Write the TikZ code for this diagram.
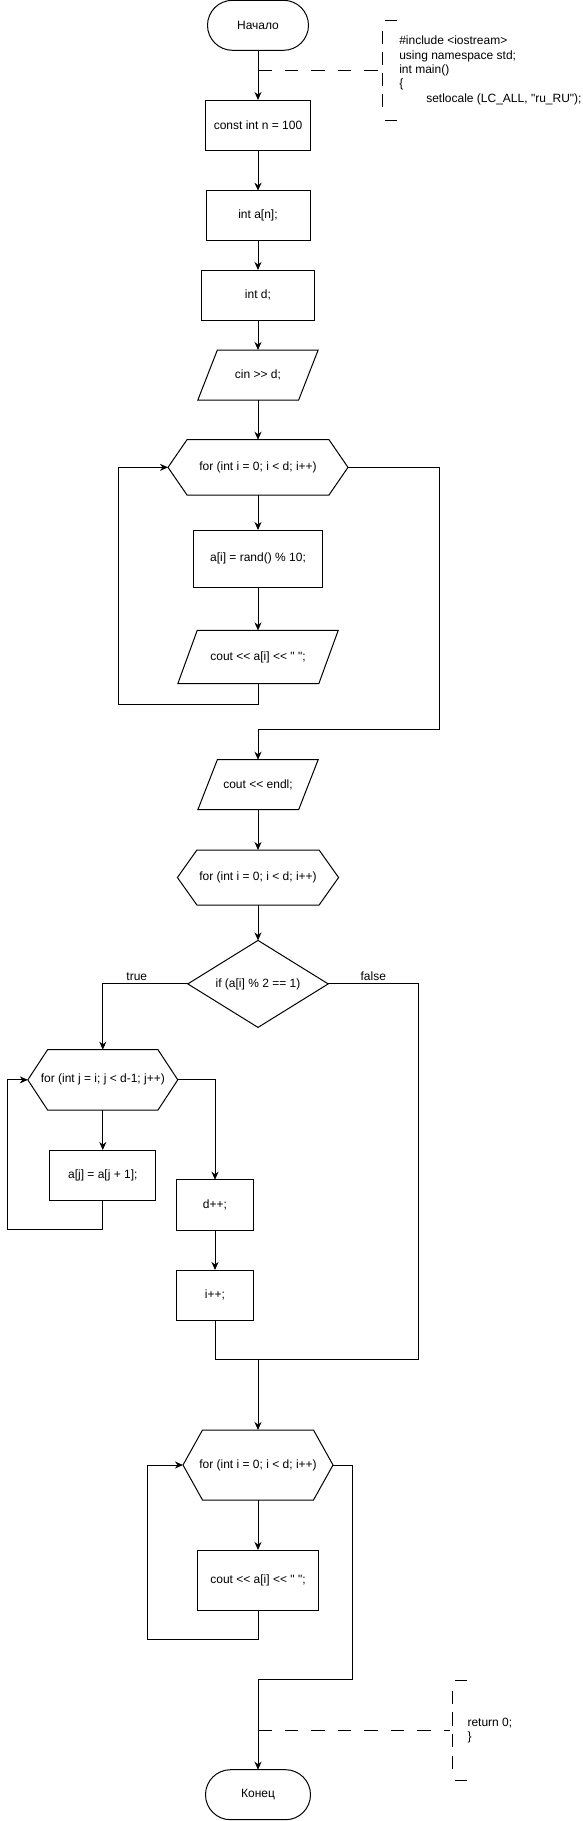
\documentclass[tikz,border=0pt]{standalone}
\usepackage{fontspec}
\setmainfont{Liberation Sans}[Ligatures=TeXOff]
\usetikzlibrary{positioning,shapes.geometric,arrows.meta}

\begin{document}
\begin{tikzpicture}[x=1pt,y=1pt,line width=1pt,
    >={Stealth[length=8pt,width=7pt,inset=2.5pt]},
    font=\fontsize{12pt}{14.4pt}\selectfont,
    every node/.style={outer sep=0pt},
    term/.style={rectangle,draw,rounded corners=25pt,minimum height=50pt},
    proc/.style={rectangle,draw,inner sep=0pt},
    io/.style={rectangle,inner sep=0pt,append after command={\pgfextra{\let\pn\tikzlastnode
        \draw ([xshift=#1]\pn.north west) -- (\pn.north east)
          -- ([xshift=-#1]\pn.south east) -- (\pn.south west) -- cycle;}}},
    io/.default=19.5pt,
    hexa/.style={rectangle,inner sep=0pt,append after command={\pgfextra{\let\hn\tikzlastnode
        \draw (\hn.west) -- ([xshift=#1]\hn.north west) -- ([xshift=-#1]\hn.north east)
          -- (\hn.east) -- ([xshift=-#1]\hn.south east) -- ([xshift=#1]\hn.south west)
          -- cycle;}}},
    hexa/.default=19.5pt,
    cond/.style={diamond,draw,aspect=1.6,inner sep=0pt},
    ann/.style={dash pattern=on 13.5pt off 13pt},
    note/.style={rectangle,anchor=west,align=left,inner ysep=0pt,minimum height=100pt}]
  \useasboundingbox (0,0) rectangle (582,-1821);

  \node[term,minimum width=101pt] (start) at (258,-25.3) {Начало};
  \node[proc,below=49.7pt of start,minimum width=105pt,minimum height=50pt] (c1)
    {const int n = 100};
  \node[proc,below=40.7pt of c1,minimum width=104pt,minimum height=49.3pt] (c2) {int a[n];};
  \node[proc,below=30pt of c2,minimum width=113pt,minimum height=50pt] (c3) {int d;};
  \node[io,below=30pt of c3,minimum width=120.3pt,minimum height=50pt] (in1) {cin >> d;};
  \node[hexa=19pt,below=39.7pt of in1,minimum width=180pt,minimum height=55.3pt] (h1)
    {for (int i = 0; i < d; i++)};
  \node[proc,below=35pt of h1,minimum width=128.4pt,minimum height=57.7pt] (c4)
    {a[i] = rand() \% 10;};
  \node[io=19.4pt,below=42.7pt of c4,minimum width=160.4pt,minimum height=53.3pt] (out1)
    {cout << a[i] << " ";};
  \node[io,below=76pt of out1,minimum width=120.3pt,minimum height=50pt] (out2)
    {cout << endl;};
  \node[hexa,below=40.3pt of out2,minimum width=161.2pt,minimum height=55pt] (h2)
    {for (int i = 0; i < d; i++)};
  \node[cond,below=35.4pt of h2,minimum width=140.4pt,minimum height=87pt] (if1)
    {if (a[i] \% 2 == 1)};
  \node[hexa=19.8pt,below=22.3pt of if1,xshift=-155.2pt,minimum width=150pt,
    minimum height=60.3pt] (h3) {for (int j = i; j < d-1; j++)};
  \node[proc,below=40pt of h3,minimum width=106pt,minimum height=50pt] (c5)
    {a[j] = a[j + 1];};
  \node[proc,below=69.7pt of h3,xshift=112.2pt,minimum width=76.7pt,minimum height=50.3pt]
    (c6) {d++;};
  \node[proc,below=40pt of c6,minimum width=76.7pt,minimum height=50pt] (c7) {i++;};
  \node[hexa,below=402.6pt of if1,minimum width=150pt,minimum height=70pt] (h4)
    {for (int i = 0; i < d; i++)};
  \node[proc,below=50pt of h4,minimum width=121pt,minimum height=60pt] (c8)
    {cout << a[i] << " ";};
  \node[term,below=159.7pt of c8,minimum width=105pt] (end) {Конец};
  \coordinate[above=70.3pt of h4.north] (m1);

  \node[note,inner xsep=16.6pt] (n1) at (382.7,-70.3)
    {\#include <iostream>\\using namespace std;\\int main()\\\{\\
     \hspace*{27pt}setlocale (LC\_ALL, "ru\_RU");};
  \node[note,inner xsep=15pt] (n2) at (452.5,-1730.5) {return 0;\\\}};

  \draw[->] (start) -- (c1); \draw[->] (c1) -- (c2); \draw[->] (c2) -- (c3);
  \draw[->] (c3) -- (in1); \draw[->] (in1) -- (h1); \draw[->] (h1) -- (c4);
  \draw[->] (c4) -- (out1);
  \draw[->] (out1.south) -- ++(0,-20.3) -| ([xshift=-49.9pt]h1.west) -- (h1.west);
  \draw[->] (h1.east) -- ++(91.2,0) |- ([yshift=30pt]out2.north) -- (out2.north);
  \draw[->] (out2) -- (h2); \draw[->] (h2) -- (if1);

  \draw[->] (if1.west) -| node[pos=0.3,above] {true} (h3.north);
  \draw (if1.east) -- ++(90.1,0) node[midway,above] {false} |- (c7.south |- m1);
  \draw[->] (h3) -- (c5);
  \draw[->] (c5.south) -- ++(0,-29.7) -| ([xshift=-20.5pt]h3.west) -- (h3.west);
  \draw[->] (h3.east) -| (c6.north); \draw[->] (c6) -- (c7);
  \draw (c7.south) -- (c7.south |- m1);

  \draw[->] (m1) -- (h4); \draw[->] (h4) -- (c8);
  \draw[->] (c8.south) -- ++(0,-29.7) -| ([xshift=-35.7pt]h4.west) -- (h4.west);
  \draw[->] (h4.east) -- ++(19.4,0) |- ([yshift=90pt]end.north) -- (end.north);

  \draw ([xshift=2.3pt]n1.north west) -- ([xshift=14pt]n1.north west);
  \draw ([xshift=2.3pt]n1.south west) -- ([xshift=14pt]n1.south west);
  \draw[dash pattern=on 12.6pt off 8.4pt] ([yshift=-10.7pt]n1.north west)
    -- ([yshift=10pt]n1.south west);
  \draw[ann] (n1.west -| start.south) -- ([xshift=-3.5pt]n1.west);
  \draw ([xshift=2.5pt]n2.north west) -- ([xshift=14pt]n2.north west);
  \draw ([xshift=2.5pt]n2.south west) -- ([xshift=14pt]n2.south west);
  \draw[dash pattern=on 13.3pt off 8.4pt] ([yshift=-10pt]n2.north west)
    -- ([yshift=8pt]n2.south west);
  \draw[ann] (n2.west -| end.north) -- ([xshift=-2.5pt]n2.west);
\end{tikzpicture}
\end{document}
